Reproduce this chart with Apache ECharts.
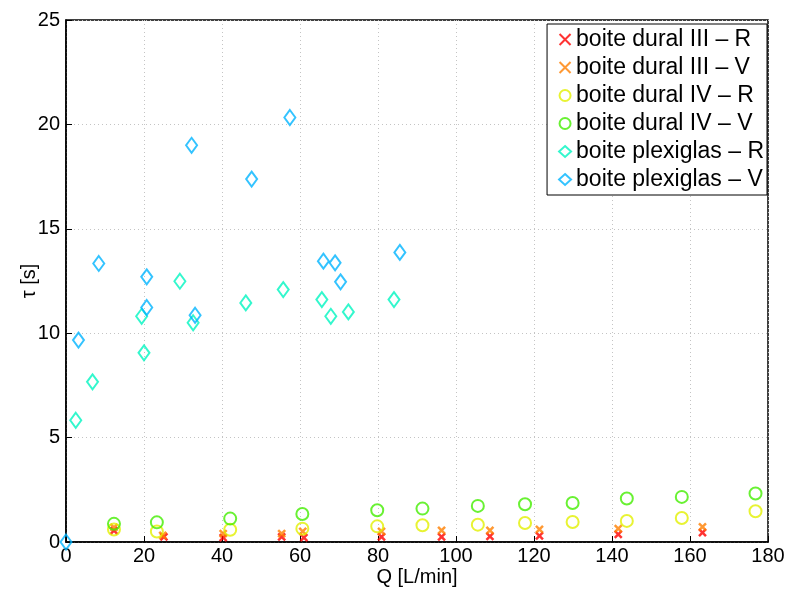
<!DOCTYPE html>
<html>
<head>
<meta charset="utf-8">
<script src="https://cdn.jsdelivr.net/npm/echarts@6/dist/echarts.min.js"></script>
<style>
html,body{margin:0;padding:0;background:#fff;}
#chart{width:789px;height:593px;}
</style>
</head>
<body>
<div id="chart"></div>
<script>
// tau vs debit
var seriesNames = ['boite dural III – R','boite dural III – V','boite dural IV – R','boite dural IV – V','boite plexiglas – R','boite plexiglas – V'];

var duralIIIR_Q   = [12.3, 25.1, 40.3, 55.3, 61.0, 80.9, 96.3, 108.7, 121.4, 141.6, 163.2];
var duralIIIR_tau = [0.55, 0.24, 0.21, 0.24, 0.21, 0.24, 0.24, 0.27, 0.29, 0.36, 0.45];

var duralIIIV_Q   = [12.3, 24.8, 40.3, 55.3, 60.7, 80.9, 96.3, 108.7, 121.4, 141.6, 163.2];
var duralIIIV_tau = [0.70, 0.32, 0.40, 0.40, 0.51, 0.51, 0.56, 0.56, 0.61, 0.64, 0.72];

var duralIVR_Q   = [12.3, 23.3, 42.1, 60.6, 79.8, 91.4, 105.6, 117.7, 129.9, 143.8, 157.9, 176.8];
var duralIVR_tau = [0.60, 0.50, 0.59, 0.64, 0.75, 0.80, 0.83, 0.91, 0.96, 1.01, 1.15, 1.47];

var duralIVV_Q   = [12.3, 23.3, 42.1, 60.6, 79.8, 91.4, 105.6, 117.7, 129.9, 143.8, 157.9, 176.8];
var duralIVV_tau = [0.87, 0.94, 1.12, 1.34, 1.52, 1.60, 1.73, 1.81, 1.87, 2.08, 2.16, 2.32];

var plexiR_Q   = [2.5, 6.8, 19.4, 20.0, 29.2, 32.6, 46.1, 55.7, 65.6, 67.9, 72.4, 84.1];
var plexiR_tau = [5.83, 7.67, 10.81, 9.06, 12.49, 10.50, 11.45, 12.09, 11.61, 10.81, 11.02, 11.61];

var plexiV_Q   = [0, 3.2, 8.4, 20.7, 20.7, 32.2, 33.1, 47.6, 57.4, 66.0, 69.0, 70.4, 85.6];
var plexiV_tau = [0, 9.67, 13.34, 12.70, 11.23, 19.00, 10.86, 17.38, 20.33, 13.45, 13.37, 12.46, 13.87];

var xTicks = [0, 20, 40, 60, 80, 100, 120, 140, 160, 180];
var yTicks = [0, 5, 10, 15, 20, 25];

var colors = ['#ff0000', '#ff8000', '#e2f000', '#44ee00', '#00f5c0', '#00b4ff'];
var crossPath = 'path://M0,0L10,10M10,0L0,10';

function pairs(xs, ys){
    var out = [];
    for (var i = 0; i < xs.length; i++) out.push([xs[i], ys[i]]);
    return out;
}

function mkSeries(idx, xs, ys, symbol, size, lw){
    return {
        name: seriesNames[idx],
        type: 'scatter',
        data: pairs(xs, ys),
        symbol: symbol,
        symbolSize: size,
        itemStyle: {
            color: 'rgba(0,0,0,0)',
            borderColor: colors[idx],
            borderWidth: lw
        },
        emphasis: {disabled: true}
    };
}

var font = '"Liberation Sans", Arial, sans-serif';
var myChart = echarts.init(document.getElementById('chart'), null, {renderer: 'canvas'});

var option = {
    animation: false,
    backgroundColor: '#fff',
    grid: {
        left: 66, right: 21, top: 20, bottom: 51,
        containLabel: false,
        outerBoundsMode: 'none',
        show: true,
        borderColor: '#000',
        borderWidth: 1.5,
        backgroundColor: 'transparent'
    },
    legend: {
        orient: 'vertical',
        right: 22,
        top: 24,
        data: seriesNames,
        backgroundColor: '#fff',
        borderColor: '#000',
        borderWidth: 1,
        padding: [4, 3, 4, 11],
        itemGap: 5,
        itemWidth: 12,
        itemHeight: 11,
        textStyle: {fontSize: 23, lineHeight: 22, color: '#000', fontFamily: font}
    },
    xAxis: {
        type: 'value',
        min: 0, max: 180, interval: 20,
        name: 'Q [L/min]',
        nameLocation: 'middle',
        nameGap: 25,
        nameMoveOverlap: false,
        nameTextStyle: {fontSize: 20, color: '#000', fontFamily: font},
        axisLine: {show: true, onZero: false, lineStyle: {color: '#000', width: 1.5}},
        axisTick: {show: true, inside: true, length: 6, lineStyle: {color: '#000'}},
        axisLabel: {
            fontSize: 20, color: '#000', fontFamily: font, margin: 4,
            formatter: function(v){ return xTicks.indexOf(v) >= 0 ? String(v) : ''; }
        },
        splitLine: {show: true, lineStyle: {color: '#c4c4c4', type: [1, 3], width: 1}}
    },
    yAxis: {
        type: 'value',
        min: 0, max: 25, interval: 5,
        name: 'τ [s]',
        nameLocation: 'middle',
        nameGap: 27,
        nameMoveOverlap: false,
        nameTextStyle: {fontSize: 20, color: '#000', fontFamily: font},
        axisLine: {show: true, onZero: false, lineStyle: {color: '#000', width: 1.5}},
        axisTick: {show: true, inside: true, length: 6, lineStyle: {color: '#000'}},
        axisLabel: {
            fontSize: 20, color: '#000', fontFamily: font, margin: 6,
            formatter: function(v){ return yTicks.indexOf(v) >= 0 ? String(v) : ''; }
        },
        splitLine: {show: true, lineStyle: {color: '#c4c4c4', type: [1, 3], width: 1}}
    },
    series: [
        mkSeries(0, duralIIIR_Q, duralIIIR_tau, crossPath, 7, 2.5),
        mkSeries(1, duralIIIV_Q, duralIIIV_tau, crossPath, 7, 2.5),
        mkSeries(2, duralIVR_Q, duralIVR_tau, 'circle', 12, 2),
        mkSeries(3, duralIVV_Q, duralIVV_tau, 'circle', 12, 2),
        mkSeries(4, plexiR_Q, plexiR_tau, 'diamond', [11, 15], 2),
        mkSeries(5, plexiV_Q, plexiV_tau, 'diamond', [11, 15], 2)
    ]
};
myChart.setOption(option);
</script>
</body>
</html>
